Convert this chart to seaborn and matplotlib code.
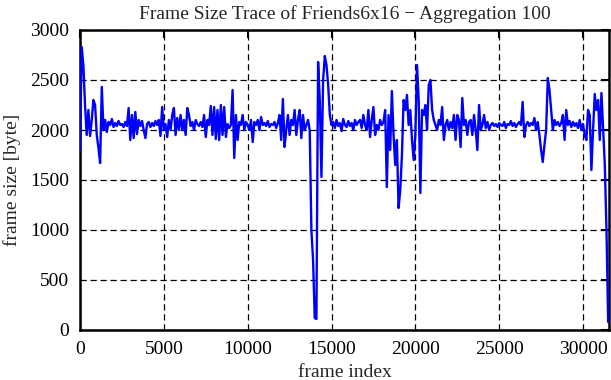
import numpy as np
import pandas as pd
import matplotlib
matplotlib.use("Agg")
import matplotlib.pyplot as plt
import seaborn as sns

AGGREGATION = 100

frame_size = [
    1800, 2830, 2650, 2250, 1950, 2200, 1940, 2100, 2300, 2250,
    1950, 1820, 1670, 2430, 2000, 2100, 1980, 2080, 2050, 2110,
    2030, 2070, 2040, 2090, 2050, 2060, 2030, 2080, 2040, 2220,
    1900, 2150, 1920, 2180, 1960, 2100, 2040, 2090, 2000, 1920,
    2060, 2080, 2030, 2070, 2040, 2090, 2050, 2100, 1940, 2230,
    2000, 2060, 1930, 2100, 2000, 2150, 2220, 1950, 2120, 2000,
    2150, 2000, 2100, 1950, 2220, 2150, 2040, 2080, 2000, 2100,
    2060, 2040, 2080, 2030, 2150, 1930, 2100, 2050, 2240, 1950,
    2230, 1910, 2200, 1900, 2250, 1950, 2230, 1930, 2060, 2020,
    2050, 2400, 1720, 2150, 1900, 2080, 2050, 2150, 2000, 2080,
    2050, 2000, 2100, 1880, 2080, 2050, 2100, 2000, 2130, 2050,
    2070, 2040, 2090, 2030, 2060, 2050, 2080, 2020, 2070, 2150,
    1900, 2310, 1830, 2000, 2150, 1950, 2100, 2050, 2200, 1950,
    2100, 2200, 1920, 2150, 2000, 2050, 2100, 2000, 1000, 700,
    120, 110, 2680, 2300, 1530, 2500, 2740, 2650, 2450, 2150,
    2050, 2080, 2020, 2100, 2040, 2070, 1990, 2110, 2050, 2030,
    2090, 2040, 2070, 2000, 2100, 2050, 2080, 2100, 2020, 2150,
    2050, 2000, 2200, 1930, 2100, 2230, 1950, 2050, 2000, 2100,
    2050, 2080, 2200, 1430, 2150, 1800, 2390, 1950, 1650, 1900,
    1220, 1400, 1750, 2300, 2200, 2350, 2050, 2200, 1900, 1700,
    1950, 2650, 2300, 1370, 2200, 2150, 2250, 2000, 2450, 2500,
    2200, 2100, 2050, 2000, 2100, 2050, 2230, 1900, 2050, 2100,
    2000, 2080, 2020, 2150, 1900, 2150, 2100, 1830, 2320, 2050,
    2100, 1950, 2080, 2100, 1950, 2150, 2000, 1800, 2250, 2000,
    2050, 2150, 2020, 2080, 2000, 2050, 2070, 2040, 2060, 2030,
    2070, 2050, 2040, 2080, 2020, 2060, 2050, 2090, 2040, 2070,
    2030, 2060, 2080, 2050, 2280, 1930, 2050, 2080, 2040, 2070,
    2050, 2120, 2000, 2080, 1950, 1800, 1680, 1850, 2000, 2520,
    2400, 2200, 2000, 2100, 2050, 2080, 2040, 2070, 2150, 1900,
    2200, 2050, 2090, 2030, 2080, 2040, 2070, 2020, 2100, 2000,
    2060, 1950, 1900, 2200, 2150, 1600, 2000, 2360, 2200, 2300,
    1900, 2370, 2000, 1650, 1000, 80,
]
frame_index = np.arange(len(frame_size)) * AGGREGATION

x_ticks = [0, 5000, 10000, 15000, 20000, 25000, 30000]
y_ticks = [0, 500, 1000, 1500, 2000, 2500, 3000]

title = "Frame Size Trace of Friends6x16 \u2212 Aggregation 100"
x_label = "frame index"
y_label = "frame size [byte]"

df = pd.DataFrame({"frame index": frame_index, "frame size": frame_size})

sns.set_style("white")
plt.rcParams["font.family"] = ["Liberation Serif", "DejaVu Serif"]

fig = plt.figure(figsize=(6.11, 3.80), dpi=100)
ax = fig.add_axes([80 / 611, 50 / 380, 529 / 611, 300 / 380])

sns.lineplot(data=df, x="frame index", y="frame size", ax=ax,
             color="#0000ff", linewidth=1.7, zorder=3)

ax.set_xlim(0, 31550)
ax.set_ylim(0, 3000)
ax.set_xticks(x_ticks)
ax.set_yticks(y_ticks)
ax.tick_params(axis="both", direction="in", length=6, width=1.5,
               top=True, right=True, labelsize=14, pad=8, colors="black")
ax.grid(True, color="black", linestyle=(0, (5, 3)), linewidth=0.9)
ax.set_axisbelow(True)
for s in ax.spines.values():
    s.set_linewidth(1.8)
    s.set_color("black")

ax.set_xlabel(x_label, fontsize=14, labelpad=4)
ax.set_ylabel(y_label, fontsize=14, labelpad=6)
ax.set_title(title, fontsize=14, pad=8)

fig.savefig("out.png", dpi=100)
